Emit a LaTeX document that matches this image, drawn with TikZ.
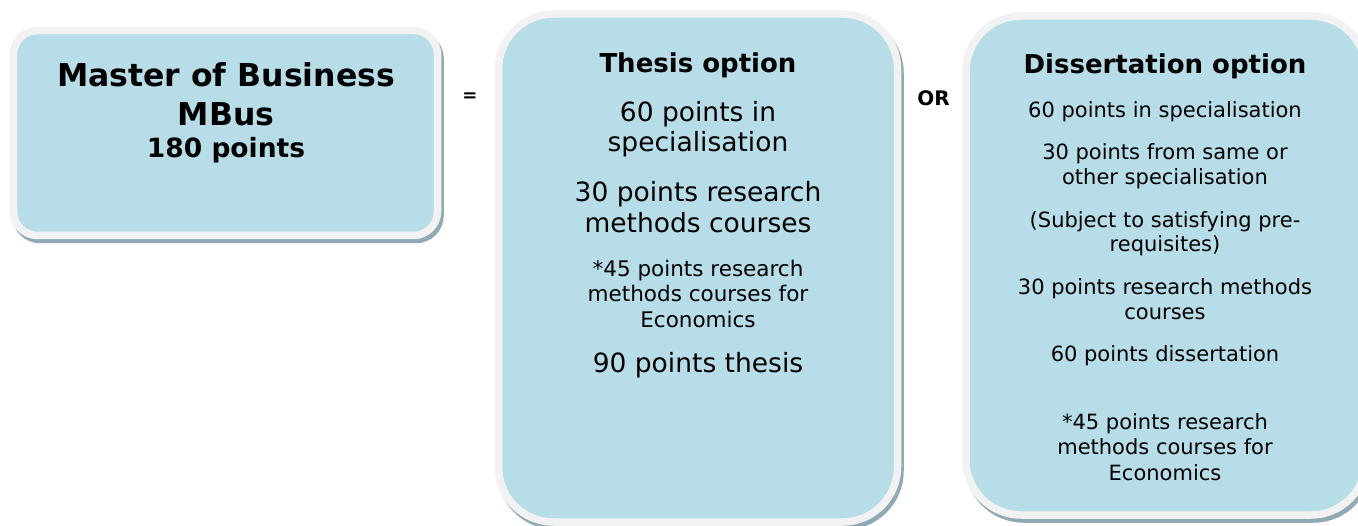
\documentclass[tikz,border=0pt]{standalone}
\usepackage{fontspec}
\setmainfont{DejaVu Sans}
\definecolor{boxfill}{HTML}{B7DDE8}
\definecolor{boxrim}{HTML}{F2F2F2}
\definecolor{boxshadow}{HTML}{8FAAB4}
\newcommand\myfs[1]{\fontsize{#1}{#1}\selectfont}
\tikzset{
  panel/.style={draw=boxrim, line width=7.5pt, fill=boxfill, rounded corners=#1, inner sep=0pt, outer sep=0pt},
  panelshadow/.style={draw=boxshadow, line width=7.5pt, fill=boxshadow, rounded corners=#1, inner sep=0pt, outer sep=0pt},
  ln/.style={anchor=base, inner sep=0pt, text=black},
  title/.style={ln, font=\myfs{26}\bfseries},
  big/.style={ln, font=\myfs{26.5}},
  mid/.style={ln, font=\myfs{21.5}},
  small/.style={ln, font=\myfs{21}},
}
\begin{document}
\begin{tikzpicture}[x=1pt, y=-1pt]
\useasboundingbox (0,0) rectangle (1358,526);
\clip (0,0) rectangle (1358,526);
% shadows
\node[panelshadow=24pt, minimum width=424pt, minimum height=205pt] (s1) at (228,137) {};
\node[panelshadow=55pt, minimum width=399pt, minimum height=508pt] (s2) at (700.5,272) {};
\node[panelshadow=55pt, minimum width=400pt, minimum height=499pt] (s3) at (1168.5,269.5) {};
% panels
\node[panel=24pt, minimum width=424pt, minimum height=205pt] (b1) at (225.5,133) {};
\node[panel=55pt, minimum width=399pt, minimum height=508pt] (b2) at (698,268) {};
\node[panel=55pt, minimum width=400pt, minimum height=499pt] (b3) at (1166,265.5) {};
% box 1 text
\node[ln, font=\myfs{31.5}\bfseries] (t11) at (226,87) {Master of Business};
\node[ln, font=\myfs{31.5}\bfseries] (t12) at (226,126) {MBus};
\node[ln, font=\myfs{26.5}\bfseries] (t13) at (226,158) {180 points};
% connectors
\node[ln, font=\myfs{18}\bfseries] (eq) at (470,102) {=};
\node[ln, font=\myfs{20}\bfseries] (or) at (933.5,106) {OR};
% box 2 text
\node[title] (t20) at (698,73) {Thesis option};
\node[big] (t21) at (698,122) {60 points in};
\node[big] (t22) at (698,152) {specialisation};
\node[big] (t23) at (698,202) {30 points research};
\node[big] (t24) at (698,233) {methods courses};
\node[mid] (t25) at (698,277) {*45 points research};
\node[mid] (t26) at (698,302) {methods courses for};
\node[mid] (t27) at (698,328) {Economics};
\node[big] (t28) at (698,373) {90 points thesis};
% box 3 text
\node[title] (t30) at (1165,74) {Dissertation option};
\node[small] (t31) at (1165,118) {60 points in specialisation};
\node[small] (t32) at (1165,160) {30 points from same or};
\node[small] (t33) at (1165,185) {other specialisation};
\node[small] (t34) at (1165,228) {(Subject to satisfying pre-};
\node[small] (t35) at (1165,252) {requisites)};
\node[small] (t36) at (1165,295) {30 points research methods};
\node[small] (t37) at (1165,320) {courses};
\node[small] (t38) at (1165,362) {60 points dissertation};
\node[small] (t39) at (1165,430) {*45 points research};
\node[small] (t3a) at (1165,455) {methods courses for};
\node[small] (t3b) at (1165,480) {Economics};
\end{tikzpicture}
\end{document}
